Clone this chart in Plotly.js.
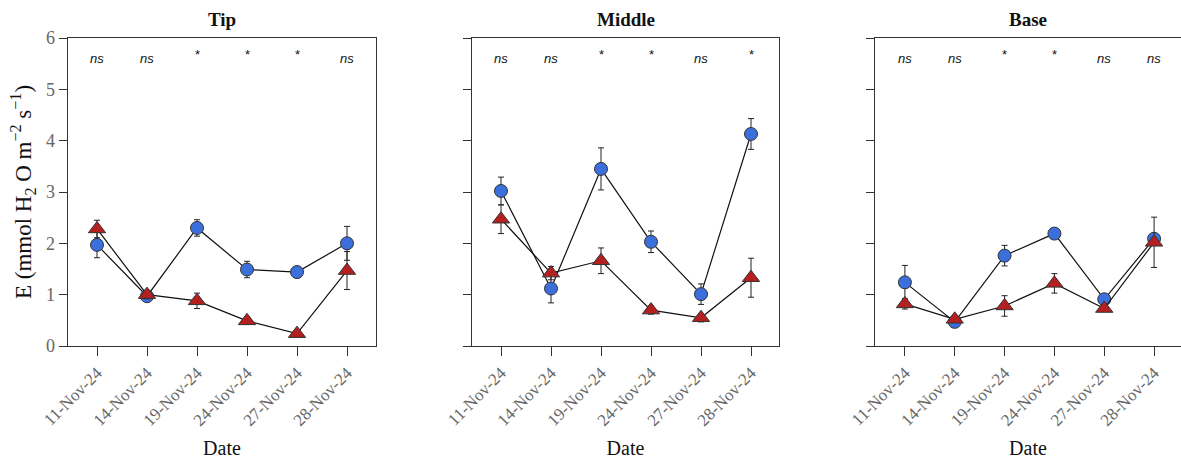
<!DOCTYPE html>
<html>
<head>
<meta charset="utf-8">
<script src="https://cdn.plot.ly/plotly-3.0.1.min.js"></script>
<style>html,body{margin:0;padding:0;background:#fff;}#chart{width:1181px;height:461px;}</style>
</head>
<body>
<div id="chart"></div>
<script>
const dates = ["11-Nov-24","14-Nov-24","19-Nov-24","24-Nov-24","27-Nov-24","28-Nov-24"];
const panels = ["Tip","Middle","Base"];

const tipBlue = [1.97, 0.97, 2.30, 1.49, 1.44, 2.00];
const tipBlueErr = [0.25, 0.08, 0.16, 0.16, 0.05, 0.33];
const tipRed = [2.28, 1.00, 0.88, 0.49, 0.24, 1.47];
const tipRedErr = [0.17, 0.08, 0.15, 0.07, 0.07, 0.37];

const midBlue = [3.02, 1.12, 3.45, 2.03, 1.01, 4.13];
const midBlueErr = [0.27, 0.28, 0.41, 0.21, 0.20, 0.30];
const midRed = [2.47, 1.42, 1.66, 0.70, 0.55, 1.33];
const midRedErr = [0.28, 0.13, 0.25, 0.08, 0.08, 0.38];

const baseBlue = [1.24, 0.47, 1.76, 2.19, 0.91, 2.09];
const baseBlueErr = [0.33, 0.03, 0.20, 0.08, 0.07, 0.10];
const baseRed = [0.82, 0.52, 0.78, 1.22, 0.73, 2.02];
const baseRedErr = [0.10, 0.05, 0.20, 0.19, 0.05, 0.49];

const tipSig = ["ns","ns","*","*","*","ns"];
const midSig = ["ns","ns","*","*","ns","*"];
const baseSig = ["ns","ns","*","*","ns","ns"];

const idx = dates.map((d,i)=>i);
const blueSets = [[tipBlue,tipBlueErr],[midBlue,midBlueErr],[baseBlue,baseBlueErr]];
const redSets = [[tipRed,tipRedErr],[midRed,midRedErr],[baseRed,baseRedErr]];
const sigSets = [tipSig, midSig, baseSig];

const W = 1181, H = 461;
const pxDomains = [[68,376],[472,779],[875,1181]];
const yDom = [(H-346)/H, (H-38)/H];
const ranges = [[-0.58,5.58],[-0.58,5.56],[-0.6,5.54]];
const serif = "Liberation Serif, Times New Roman, serif";

const traces = [];
const annotations = [];
const layout = {
  width: W, height: H,
  margin: {l:0, r:0, t:0, b:0},
  paper_bgcolor: "#fff", plot_bgcolor: "#fff",
  showlegend: false,
  font: {family: serif, color: "#555"},
  annotations: annotations
};

for (let p = 0; p < 3; p++) {
  const xa = p === 0 ? "x" : "x" + (p+1);
  const ya = p === 0 ? "y" : "y" + (p+1);
  traces.push({
    x: idx, y: blueSets[p][0], xaxis: xa, yaxis: ya, type: "scatter", mode: "lines+markers",
    line: {color: "#111", width: 1.2},
    marker: {symbol: "circle", size: 13, color: "#3b6fdc", line: {color: "#333", width: 1}},
    error_y: {type: "data", array: blueSets[p][1], visible: true, color: "#222", thickness: 1, width: 3},
    cliponaxis: false
  });
  traces.push({
    x: idx, y: redSets[p][0], xaxis: xa, yaxis: ya, type: "scatter", mode: "lines+markers",
    line: {color: "#111", width: 1.2},
    marker: {symbol: "triangle-up", size: 15, color: "#b41f1f", line: {color: "#333", width: 1}},
    error_y: {type: "data", array: redSets[p][1], visible: true, color: "#222", thickness: 1, width: 3},
    cliponaxis: false
  });
  const xKey = p === 0 ? "xaxis" : "xaxis" + (p+1);
  const yKey = p === 0 ? "yaxis" : "yaxis" + (p+1);
  layout[xKey] = {
    domain: [pxDomains[p][0]/W, pxDomains[p][1]/W],
    anchor: ya,
    range: ranges[p],
    tickmode: "array", tickvals: idx, ticktext: dates,
    tickangle: -45,
    ticks: "outside", ticklen: 9, tickcolor: "#333", tickwidth: 1,
    showline: true, linecolor: "#333", linewidth: 1.3, mirror: true,
    showgrid: false, zeroline: false,
    tickfont: {family: serif, size: 17, color: "#666"},
    title: {text: "Date", font: {family: serif, size: 20, color: "#111"}, standoff: 12}
  };
  layout[yKey] = {
    domain: yDom,
    anchor: xa,
    range: [0, 6],
    tickvals: [0,1,2,3,4,5,6],
    ticks: "outside", ticklen: 8, tickcolor: "#333", tickwidth: 1,
    showline: true, linecolor: "#333", linewidth: 1.3, mirror: true,
    showgrid: false, zeroline: false,
    showticklabels: p === 0,
    tickfont: {family: serif, size: 18, color: "#666"}
  };
  if (p === 0) {
    layout[yKey].title = {
      text: "E (mmol H<sub>2</sub> O m<sup>−2</sup> s<sup>−1</sup>)",
      font: {family: serif, size: 23, color: "#111"},
      standoff: 8
    };
  }
  annotations.push({
    xref: "paper", yref: "paper",
    x: (pxDomains[p][0] + pxDomains[p][1]) / 2 / W,
    y: (H - 19) / H,
    text: "<b>" + panels[p] + "</b>",
    showarrow: false,
    font: {family: serif, size: 19, color: "#111"},
    xanchor: "center", yanchor: "middle"
  });
  sigSets[p].forEach((s, i) => {
    const star = s === "*";
    annotations.push({
      xref: xa, yref: ya, x: i, y: star ? 5.68 : 5.6,
      text: star ? "*" : "<i>ns</i>",
      showarrow: false,
      font: {family: "Liberation Sans, Arial, sans-serif", size: 13, color: "#111"},
      xanchor: "center", yanchor: "middle"
    });
  });
}

Plotly.newPlot("chart", traces, layout, {displayModeBar: false, staticPlot: true});
</script>
</body>
</html>
